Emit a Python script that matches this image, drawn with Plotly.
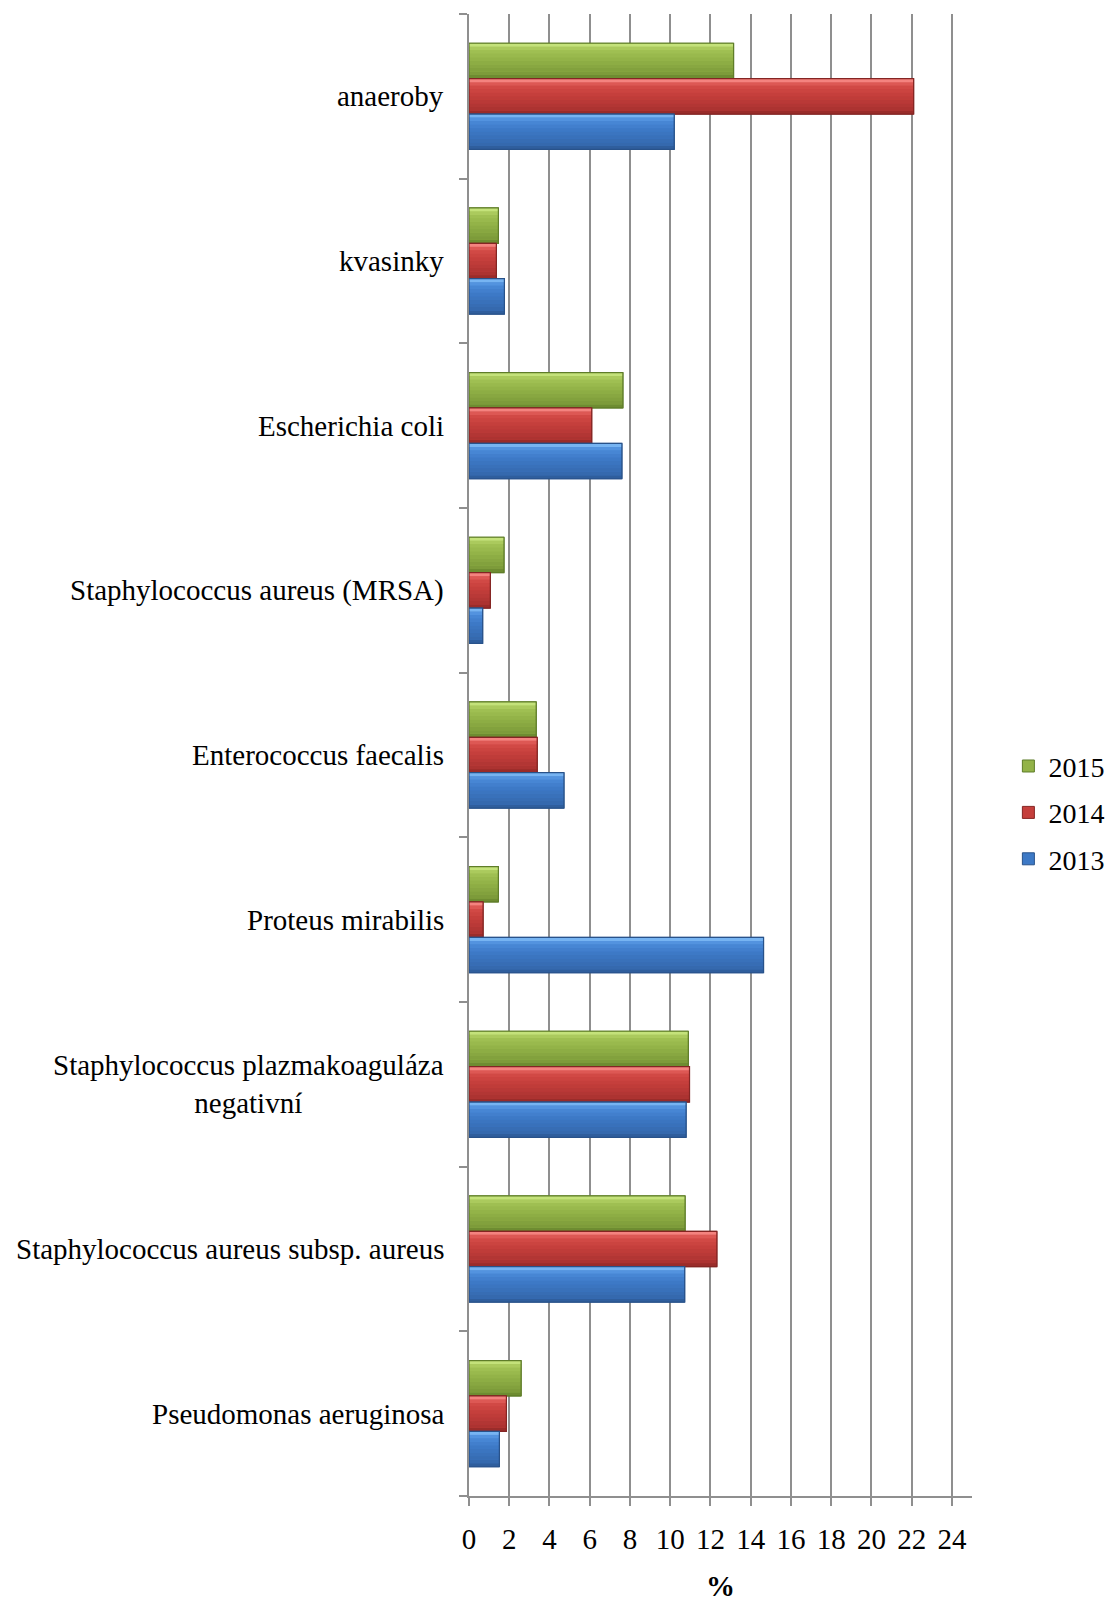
import plotly.graph_objects as go

# Organisms, listed from the bottom of the chart to the top
categories = [
    "Pseudomonas aeruginosa",
    "Staphylococcus aureus subsp. aureus",
    "Staphylococcus plazmakoaguláza<br>negativní",
    "Proteus mirabilis",
    "Enterococcus faecalis",
    "Staphylococcus aureus (MRSA)",
    "Escherichia coli",
    "kvasinky",
    "anaeroby",
]

# Share of isolates (%) per year
values_2013 = [1.51, 10.72, 10.79, 14.64, 4.72, 0.68, 7.60, 1.76, 10.20]
values_2014 = [1.86, 12.32, 10.96, 0.70, 3.39, 1.06, 6.10, 1.36, 22.10]
values_2015 = [2.59, 10.74, 10.90, 1.46, 3.34, 1.74, 7.65, 1.46, 13.15]

years = ["2013", "2014", "2015"]
tick_values = list(range(0, 25, 2))
x_title = "%"

SERIF = "Liberation Serif, Times New Roman, serif"
GRID = "#8f8f8f"

BAR_W = 0.215   # thickness of one bar, in category units
N_BANDS = 10    # horizontal strips used to fake the rounded shading


def hex_to_rgb(h):
    h = h.lstrip("#")
    return tuple(int(h[i:i + 2], 16) for i in (0, 2, 4))


def shade_at(stops, t):
    """Colour of the vertical gradient at fraction t (0 = bottom edge, 1 = top edge)."""
    for (t0, c0), (t1, c1) in zip(stops, stops[1:]):
        if t0 <= t <= t1:
            a, b = hex_to_rgb(c0), hex_to_rgb(c1)
            k = (t - t0) / (t1 - t0) if t1 > t0 else 0
            return "rgb({},{},{})".format(*(round(x + (y - x) * k) for x, y in zip(a, b)))
    return stops[-1][1]


# name, values, legend colour, edge colour, gradient stops (bottom -> top)
series = [
    (years[0], values_2013, "#3d79c6", "#28528a",
     [(0, "#2a568f"), (0.1, "#3467ab"), (0.55, "#3d79c6"), (0.82, "#4a8ad9"), (0.9, "#63a2ea"), (1.0, "#8cc6fa")]),
    (years[1], values_2014, "#c53f3c", "#842523",
     [(0, "#8a2624"), (0.1, "#a93230"), (0.55, "#c53f3c"), (0.82, "#d54c48"), (0.9, "#ea6c68"), (1.0, "#ff9a96")]),
    (years[2], values_2015, "#93b348", "#5f7d29",
     [(0, "#62802a"), (0.1, "#7a9838"), (0.55, "#93b348"), (0.82, "#a3c355"), (0.9, "#b7d66a"), (1.0, "#d2ee8a")]),
]

fig = go.Figure()
n = len(series)
# add the newest year first so the legend lists 2015 on top; bar placement comes from the offsets
for i in reversed(range(n)):
    name, vals, base, edge, stops = series[i]
    offset = (i - n / 2) * BAR_W
    fig.add_trace(go.Bar(
        name=name, legendgroup=name,
        y=categories, x=vals, orientation="h",
        offset=offset, width=BAR_W,
        marker=dict(color=base, line=dict(color=edge, width=1)),
        hoverinfo="x+name",
    ))
    for k in range(N_BANDS):
        lo, hi = k / N_BANDS, (k + 1) / N_BANDS
        fig.add_trace(go.Bar(
            name=name, legendgroup=name, showlegend=False,
            y=categories, x=vals, orientation="h",
            offset=offset + lo * BAR_W, width=(hi - lo) * BAR_W * 1.02,
            marker=dict(color=shade_at(stops, (lo + hi) / 2), line=dict(width=0)),
            hoverinfo="skip",
        ))
    fig.add_trace(go.Bar(
        name=name, legendgroup=name, showlegend=False,
        y=categories, x=vals, orientation="h",
        offset=offset, width=BAR_W,
        marker=dict(color="rgba(0,0,0,0)", line=dict(color=edge, width=1.2)),
        hoverinfo="skip",
    ))

fig.update_layout(
    width=1113,
    height=1606,
    margin=dict(l=469, r=141, t=14, b=110, autoexpand=False),
    paper_bgcolor="white",
    plot_bgcolor="white",
    barmode="overlay",
    font=dict(family=SERIF, size=29, color="black"),
    showlegend=True,
    legend=dict(
        xref="container", x=0.906, xanchor="left",
        y=0.461, yanchor="middle",
        traceorder="grouped",
        tracegroupgap=7,
        font=dict(family=SERIF, size=28, color="black"),
        itemwidth=30,
        bgcolor="rgba(0,0,0,0)",
    ),
    xaxis=dict(
        range=[0, 25],
        tickvals=tick_values,
        ticks="outside",
        ticklen=8,
        tickcolor=GRID,
        tickwidth=1.5,
        ticklabelstandoff=8,
        tickfont=dict(family=SERIF, size=29, color="black"),
        showgrid=True,
        gridcolor=GRID,
        gridwidth=1.5,
        showline=True,
        linecolor=GRID,
        linewidth=2,
        zeroline=False,
    ),
    yaxis=dict(
        categoryorder="array",
        categoryarray=categories,
        range=[-0.5, len(categories) - 0.5],
        showticklabels=False,
        ticks="outside",
        tickson="boundaries",
        ticklen=8,
        tickcolor=GRID,
        tickwidth=1.5,
        showgrid=False,
        showline=True,
        linecolor=GRID,
        linewidth=2,
        zeroline=False,
    ),
)

# category names, centred line by line and right-aligned against the axis
for cat in categories:
    fig.add_annotation(
        x=0, xref="paper", xanchor="right", xshift=-23,
        y=cat, yref="y", yanchor="middle",
        text=cat, showarrow=False, align="center",
        font=dict(family=SERIF, size=29, color="black"),
    )

# value-axis title below the tick labels
fig.add_annotation(
    x=0.5, xref="paper", xanchor="center",
    y=-0.0605, yref="paper", yanchor="middle",
    text="<b>" + x_title + "</b>", showarrow=False,
    font=dict(family=SERIF, size=29, color="black"),
)

fig.write_html("out.html")
